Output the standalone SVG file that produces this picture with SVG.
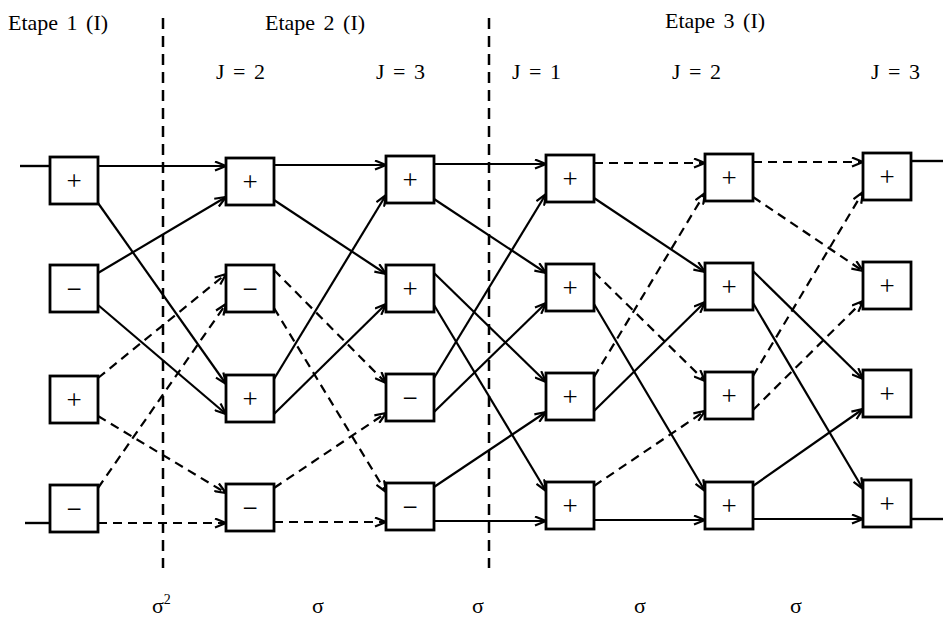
<svg xmlns="http://www.w3.org/2000/svg" width="943" height="627" viewBox="0 0 943 627">
<style>
.box rect{fill:#fff;stroke:#000;stroke-width:2.8}
.box text{font-family:"Liberation Serif",serif;font-size:27px;text-anchor:middle;fill:#000}
.s{stroke:#000;stroke-width:2.2;fill:none;marker-end:url(#ar)}
.d{stroke:#000;stroke-width:2.2;fill:none;stroke-dasharray:9 6;marker-end:url(#ar)}
.sn{stroke:#000;stroke-width:2.4;fill:none}
.sep{stroke:#000;stroke-width:2.5;stroke-dasharray:11 7;fill:none}
.lbl{font-family:"Liberation Serif",serif;font-size:22px;fill:#000;word-spacing:3px}
</style>
<defs>
<marker id="ar" viewBox="0 0 13 11" refX="12" refY="5.5" markerWidth="13" markerHeight="11" markerUnits="userSpaceOnUse" orient="auto">
<path d="M1,1 L12,5.5 L1,10" fill="none" stroke="#000" stroke-width="2.2"/>
</marker>
</defs>

<g id="labels">
<text class="lbl" x="8" y="30">Etape 1 (I)</text>
<text class="lbl" x="265" y="30">Etape 2 (I)</text>
<text class="lbl" x="665" y="28">Etape 3 (I)</text>
<text class="lbl" x="216" y="79">J = 2</text>
<text class="lbl" x="376" y="79">J = 3</text>
<text class="lbl" x="512" y="79">J = 1</text>
<text class="lbl" x="672" y="79">J = 2</text>
<text class="lbl" x="871" y="79">J = 3</text>
<text class="lbl" x="152" y="613">σ<tspan dy="-9" font-size="14">2</tspan></text>
<text class="lbl" x="312" y="613">σ</text>
<text class="lbl" x="472" y="613">σ</text>
<text class="lbl" x="634" y="613">σ</text>
<text class="lbl" x="790" y="613">σ</text>
</g>

<g id="separators">
<line class="sep" x1="163" y1="18" x2="163" y2="568"/>
<line class="sep" x1="489" y1="18" x2="489" y2="568"/>
</g>

<g id="connectors">
<line class="sn" x1="20" y1="166" x2="50" y2="166"/>
<line class="sn" x1="25" y1="523" x2="50" y2="523"/>
<!-- stage 1 -->
<line class="s" x1="98" y1="166" x2="226" y2="166"/>
<line class="s" x1="98" y1="203" x2="226" y2="384"/>
<line class="s" x1="98" y1="273" x2="226" y2="197"/>
<line class="s" x1="98" y1="305" x2="226" y2="414"/>
<line class="d" x1="98" y1="378" x2="226" y2="274"/>
<line class="d" x1="98" y1="416" x2="226" y2="493"/>
<line class="d" x1="98" y1="488" x2="226" y2="304"/>
<line class="d" x1="98" y1="523" x2="226" y2="523"/>
<!-- stage 2 -->
<line class="s" x1="274" y1="165" x2="386" y2="165"/>
<line class="s" x1="274" y1="200" x2="386" y2="274"/>
<line class="s" x1="274" y1="379" x2="386" y2="195"/>
<line class="s" x1="274" y1="414" x2="386" y2="304"/>
<line class="d" x1="274" y1="270" x2="386" y2="383"/>
<line class="d" x1="274" y1="308" x2="386" y2="492"/>
<line class="d" x1="274" y1="488" x2="386" y2="413"/>
<line class="d" x1="274" y1="522" x2="386" y2="522"/>
<!-- stage 3 -->
<line class="s" x1="434" y1="164" x2="546" y2="164"/>
<line class="s" x1="434" y1="199" x2="546" y2="273"/>
<line class="s" x1="434" y1="378" x2="546" y2="194"/>
<line class="s" x1="434" y1="412" x2="546" y2="303"/>
<line class="s" x1="434" y1="273" x2="546" y2="382"/>
<line class="s" x1="434" y1="305" x2="546" y2="491"/>
<line class="s" x1="434" y1="487" x2="546" y2="412"/>
<line class="s" x1="434" y1="521" x2="546" y2="521"/>
<!-- stage 4 -->
<line class="d" x1="594" y1="163" x2="705" y2="163"/>
<line class="s" x1="594" y1="198" x2="705" y2="272"/>
<line class="d" x1="594" y1="377" x2="705" y2="193"/>
<line class="s" x1="594" y1="411" x2="705" y2="302"/>
<line class="d" x1="594" y1="272" x2="705" y2="381"/>
<line class="s" x1="594" y1="304" x2="705" y2="491"/>
<line class="d" x1="594" y1="486" x2="705" y2="411"/>
<line class="s" x1="594" y1="520" x2="705" y2="520"/>
<!-- stage 5 -->
<line class="d" x1="753" y1="162" x2="863" y2="162"/>
<line class="d" x1="753" y1="197" x2="863" y2="271"/>
<line class="d" x1="753" y1="376" x2="863" y2="192"/>
<line class="d" x1="753" y1="410" x2="863" y2="301"/>
<line class="s" x1="753" y1="271" x2="863" y2="379"/>
<line class="s" x1="753" y1="303" x2="863" y2="489"/>
<line class="s" x1="753" y1="486" x2="863" y2="409"/>
<line class="s" x1="753" y1="519" x2="863" y2="519"/>
<line class="sn" x1="911" y1="161" x2="943" y2="161"/>
<line class="sn" x1="911" y1="519" x2="943" y2="519"/>
</g>

<g id="n00" class="box"><rect x="50" y="157" width="48" height="47"/><text x="74" y="190">+</text></g>
<g id="n01" class="box"><rect x="50" y="265" width="48" height="47"/><text x="74" y="298">−</text></g>
<g id="n02" class="box"><rect x="50" y="376" width="48" height="47"/><text x="74" y="409">+</text></g>
<g id="n03" class="box"><rect x="50" y="485" width="48" height="47"/><text x="74" y="518">−</text></g>

<g id="n10" class="box"><rect x="226" y="158" width="48" height="47"/><text x="250" y="191">+</text></g>
<g id="n11" class="box"><rect x="226" y="265" width="48" height="47"/><text x="250" y="298">−</text></g>
<g id="n12" class="box"><rect x="226" y="375" width="48" height="47"/><text x="250" y="408">+</text></g>
<g id="n13" class="box"><rect x="226" y="484" width="48" height="47"/><text x="250" y="517">−</text></g>

<g id="n20" class="box"><rect x="386" y="156" width="48" height="47"/><text x="410" y="189">+</text></g>
<g id="n21" class="box"><rect x="386" y="265" width="48" height="47"/><text x="410" y="298">+</text></g>
<g id="n22" class="box"><rect x="386" y="374" width="48" height="47"/><text x="410" y="407">−</text></g>
<g id="n23" class="box"><rect x="386" y="483" width="48" height="47"/><text x="410" y="516">−</text></g>

<g id="n30" class="box"><rect x="546" y="155" width="48" height="47"/><text x="570" y="188">+</text></g>
<g id="n31" class="box"><rect x="546" y="264" width="48" height="47"/><text x="570" y="297">+</text></g>
<g id="n32" class="box"><rect x="546" y="373" width="48" height="47"/><text x="570" y="406">+</text></g>
<g id="n33" class="box"><rect x="546" y="482" width="48" height="47"/><text x="570" y="515">+</text></g>

<g id="n40" class="box"><rect x="705" y="154" width="48" height="47"/><text x="729" y="187">+</text></g>
<g id="n41" class="box"><rect x="705" y="263" width="48" height="47"/><text x="729" y="296">+</text></g>
<g id="n42" class="box"><rect x="705" y="372" width="48" height="47"/><text x="729" y="405">+</text></g>
<g id="n43" class="box"><rect x="705" y="482" width="48" height="47"/><text x="729" y="515">+</text></g>

<g id="n50" class="box"><rect x="863" y="153" width="48" height="47"/><text x="887" y="186">+</text></g>
<g id="n51" class="box"><rect x="863" y="262" width="48" height="47"/><text x="887" y="295">+</text></g>
<g id="n52" class="box"><rect x="863" y="370" width="48" height="47"/><text x="887" y="403">+</text></g>
<g id="n53" class="box"><rect x="863" y="480" width="48" height="47"/><text x="887" y="513">+</text></g>
</svg>
